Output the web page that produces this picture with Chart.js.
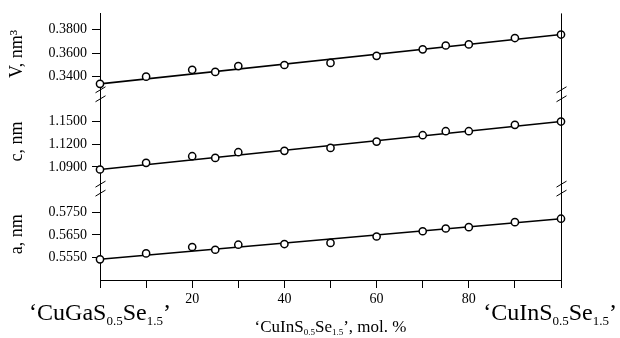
<!DOCTYPE html>
<html>
<head>
<meta charset="utf-8">
<script src="https://cdn.jsdelivr.net/npm/chart.js@4.4.1/dist/chart.umd.min.js"></script>
<style>
  html, body { margin: 0; padding: 0; background: #fff; }
  canvas { display: block; }
</style>
</head>
<body>
<canvas id="lattice-chart" width="620" height="338"></canvas>
<script>
// composition, mol. % 'CuInS0.5Se1.5'
const molPct = [0, 10, 20, 25, 30, 40, 50, 60, 70, 75, 80, 90, 100];
// unit cell volume, nm^3
const cellV = [0.3335, 0.3397, 0.3456, 0.3438, 0.3488, 0.3497, 0.3515, 0.3576, 0.3632, 0.3665, 0.3674, 0.3729, 0.3759];
// lattice parameter c, nm
const latC = [1.0865, 1.0953, 1.1041, 1.1019, 1.1094, 1.1112, 1.1151, 1.1235, 1.1319, 1.1372, 1.1372, 1.1456, 1.1500];
// lattice parameter a, nm
const latA = [0.5543, 0.5569, 0.5597, 0.5585, 0.5607, 0.5610, 0.5615, 0.5643, 0.5666, 0.5678, 0.5684, 0.5706, 0.5721];

// straight-line fits (ends)
const fitX = [0, 100];
const fitV = [0.3335, 0.3759];
const fitC = [1.0865, 1.1500];
const fitA = [0.5543, 0.5721];

const vTicks = [0.34, 0.36, 0.38];
const cTicks = [1.09, 1.12, 1.15];
const aTicks = [0.555, 0.565, 0.575];
const xTickLabels = [20, 40, 60, 80];

const serif = 'Liberation Serif';
const pts = (xs, ys) => xs.map((x, i) => ({ x: x, y: ys[i] }));

function pointSet(data, axis) {
    return {
        data: pts(molPct, data), yAxisID: axis, showLine: false, order: 0, clip: false,
        pointRadius: 3.6, pointHoverRadius: 3.6, pointBorderWidth: 1.5,
        pointBackgroundColor: '#fff', pointBorderColor: '#000'
    };
}
function fitSet(data, axis) {
    return {
        data: pts(fitX, data), yAxisID: axis, showLine: true, order: 1, clip: false,
        borderColor: '#000', borderWidth: 1.6, pointRadius: 0
    };
}
function yScale(min, max, ticks, weight, title) {
    return {
        type: 'linear', position: 'left', stack: 'panels', stackWeight: weight,
        min: min, max: max, bounds: 'data',
        afterBuildTicks: s => { s.ticks = ticks.map(v => ({ value: v })); },
        afterFit: s => { s.width = 100; },
        border: { display: true, color: '#000', width: 1 },
        grid: { drawOnChartArea: false, drawTicks: true, tickLength: 8, color: '#000', lineWidth: 1 },
        ticks: { color: '#000', padding: 5, font: { family: serif, size: 14 }, callback: v => v.toFixed(4) },
        title: { display: true, text: title, color: '#000', font: { family: serif, size: 18 }, padding: { top: 6, bottom: 0 } }
    };
}

// text with subscripts, centred on cx but kept inside [minX, maxX]
function richText(ctx, parts, cx, baseline, size, minX, maxX) {
    const subSize = Math.round(size * 0.55);
    let total = 0;
    parts.forEach(p => {
        ctx.font = (p[1] ? subSize : size) + 'px "' + serif + '"';
        total += ctx.measureText(p[0]).width;
    });
    let x = cx - total / 2;
    if (minX !== undefined) x = Math.max(x, minX);
    if (maxX !== undefined) x = Math.min(x, maxX - total);
    parts.forEach(p => {
        ctx.font = (p[1] ? subSize : size) + 'px "' + serif + '"';
        ctx.fillText(p[0], x, p[1] ? baseline + size * 0.2 : baseline);
        x += ctx.measureText(p[0]).width;
    });
}

const decorPlugin = {
    id: 'decor',
    afterDraw(chart) {
        const ctx = chart.ctx;
        const area = chart.chartArea;
        const xs = chart.scales.x;
        ctx.save();
        // right frame line
        ctx.strokeStyle = '#000';
        ctx.lineWidth = 1;
        ctx.beginPath();
        ctx.moveTo(Math.round(area.right) + 0.5, area.top);
        ctx.lineTo(Math.round(area.right) + 0.5, area.bottom + 8);
        ctx.stroke();
        // axis breaks
        const joins = [chart.scales.yV.bottom, chart.scales.yC.bottom];
        [Math.round(area.left) + 0.5, Math.round(area.right) + 0.5].forEach(x => {
            joins.forEach(j => {
                [j - 4.5, j + 4.5].forEach(y => {
                    ctx.beginPath();
                    ctx.moveTo(x - 5, y + 3);
                    ctx.lineTo(x + 5, y - 3);
                    ctx.stroke();
                });
            });
        });
        // end-member labels and axis title
        ctx.fillStyle = '#000';
        ctx.textBaseline = 'alphabetic';
        ctx.textAlign = 'left';
        richText(ctx, [['\u2018CuGaS'], ['0.5', 1], ['Se'], ['1.5', 1], ['\u2019']], xs.getPixelForValue(0), 320, 24, 3, 620);
        richText(ctx, [['\u2018CuInS'], ['0.5', 1], ['Se'], ['1.5', 1], ['\u2019']], xs.getPixelForValue(100), 320, 24, 0, 617);
        richText(ctx, [['\u2018CuInS'], ['0.5', 1], ['Se'], ['1.5', 1], ['\u2019, mol. %']], (area.left + area.right) / 2, 332, 17);
        ctx.restore();
    }
};

new Chart(document.getElementById('lattice-chart'), {
    type: 'scatter',
    data: {
        datasets: [
            fitSet(fitA, 'yA'), pointSet(latA, 'yA'),
            fitSet(fitC, 'yC'), pointSet(latC, 'yC'),
            fitSet(fitV, 'yV'), pointSet(cellV, 'yV')
        ]
    },
    options: {
        responsive: false, animation: false,
        layout: { padding: { top: 13, right: 59, left: 0, bottom: 0 } },
        plugins: { legend: { display: false }, tooltip: { enabled: false } },
        scales: {
            x: {
                type: 'linear', position: 'bottom', min: 0, max: 100,
                afterFit: s => { s.height = 58; },
                border: { display: true, color: '#000', width: 1 },
                grid: { drawOnChartArea: false, drawTicks: true, tickLength: 8, color: '#000', lineWidth: 1 },
                ticks: {
                    stepSize: 10, color: '#000', padding: 3, maxRotation: 0, autoSkip: false,
                    font: { family: serif, size: 14 },
                    callback: v => xTickLabels.includes(v) ? String(v) : ''
                }
            },
            yA: yScale(0.54524, 0.58528, aTicks, 91.5, 'a, nm'),
            yC: yScale(1.06119, 1.18607, cTicks, 94.5, 'c, nm'),
            yV: yScale(0.32455, 0.39408, vTicks, 81, 'V, nm\u00b3')
        }
    },
    plugins: [decorPlugin]
});
</script>
</body>
</html>
